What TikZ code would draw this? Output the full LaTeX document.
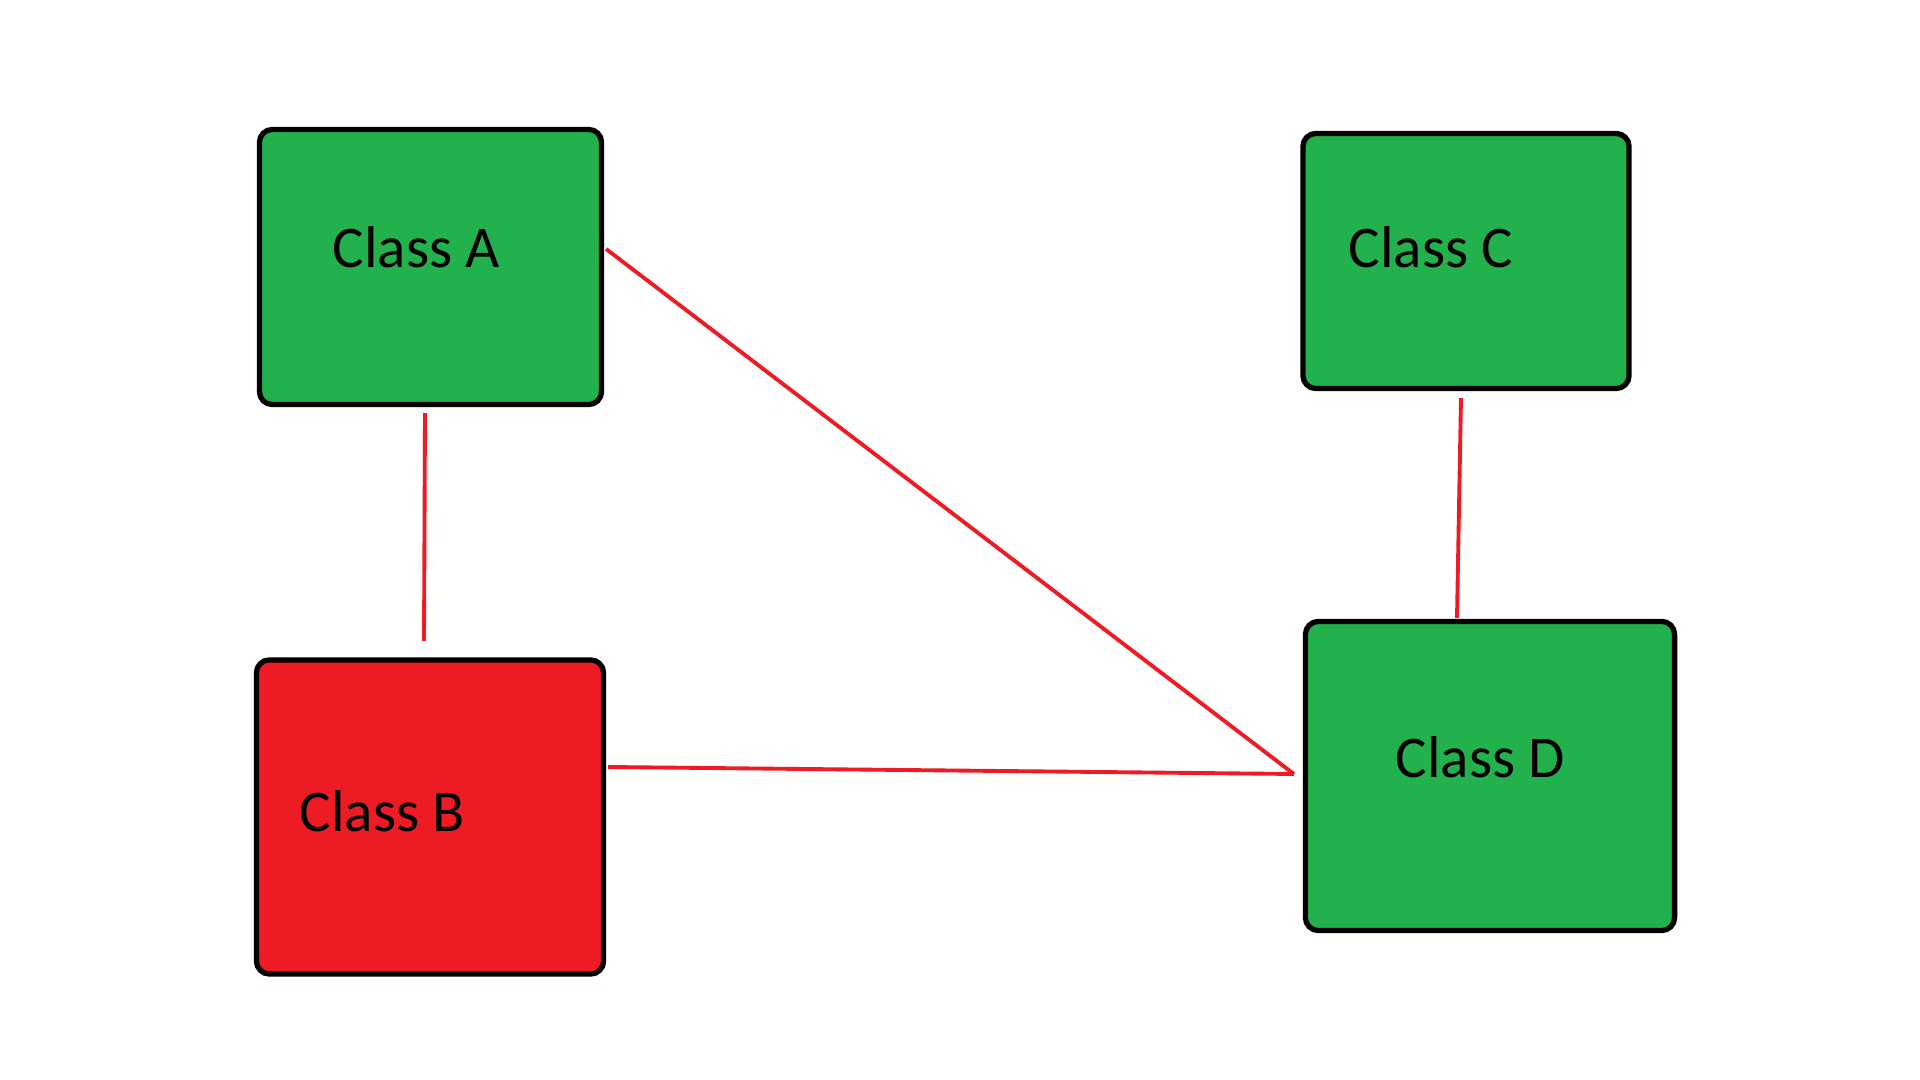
\documentclass[tikz,border=0pt]{standalone}
\usepackage{fontspec}
\setmainfont{Carlito}
\usetikzlibrary{calc}
\definecolor{paintgreen}{RGB}{34,177,76}
\definecolor{paintred}{RGB}{237,28,36}
\tikzset{
 classbox/.style={draw=black, line width=1.5pt, rounded corners=0.13cm, outer sep=0pt, inner sep=0pt},
 classtext/.style={anchor=base west, inner sep=0pt, font=\fontsize{16.8}{20}\selectfont},
 link/.style={draw=paintred, line width=1.1pt}
}
\begin{document}
\begin{tikzpicture}[x=0.01cm, y=-0.01cm]
 \useasboundingbox (0,0) rectangle (1920,1080);

 \node[classbox, fill=paintgreen, minimum width=3.42cm, minimum height=2.75cm] (a) at (430.5,267) {};
 \node[classbox, fill=paintred, minimum width=3.47cm, minimum height=3.14cm] (b) at (430,817) {};
 \node[classbox, fill=paintgreen, minimum width=3.26cm, minimum height=2.55cm] (c) at (1466,261) {};
 \node[classbox, fill=paintgreen, minimum width=3.69cm, minimum height=3.09cm] (d) at (1490,776) {};

 \node[classtext] (ta) at ($(a.center)+(-98.5,1)$) {Class A};
 \node[classtext] (tb) at ($(b.center)+(-131,15)$) {Class B};
 \node[classtext] (tc) at ($(c.center)+(-118,7)$) {Class C};
 \node[classtext] (td) at ($(d.center)+(-95,2)$) {Class D};

 \coordinate (dtip) at ($(d.west)+(-11.5,-2)$);
 \draw[link] ($(a.south)+(-5.5,8.5)$) -- ($(b.north)+(-6,-19)$);
 \draw[link] ($(a.east)+(4.5,-18)$) -- (dtip);
 \draw[link] ($(b.east)+(4.5,-50)$) -- (dtip);
 \draw[link] ($(c.south)+(-5,9.5)$) -- ($(d.north)+(-33,-3.5)$);

 %%%%%%%%%%%%%%%%%%%%%%%%%%%%%%%%%%%
\end{tikzpicture}
\end{document}
